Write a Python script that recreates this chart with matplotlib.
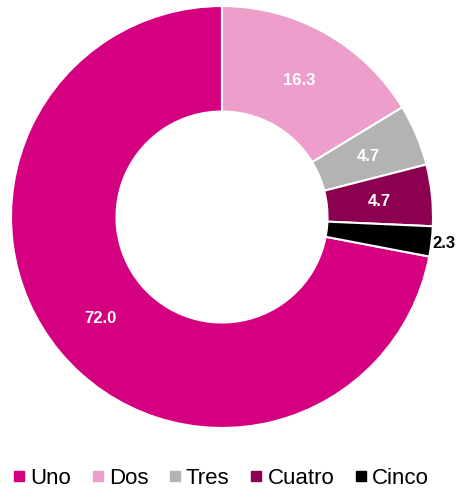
import matplotlib
matplotlib.use("Agg")
import matplotlib.pyplot as plt
from matplotlib.lines import Line2D
import numpy as np

categories = ["Uno", "Dos", "Tres", "Cuatro", "Cinco"]
values = [72.0, 16.3, 4.7, 4.7, 2.3]
colors = ["#D5007F", "#EE9ECB", "#B3B3B3", "#8C0050", "#000000"]
label_colors = ["white", "white", "white", "white", "black"]

plt.rcParams['font.family'] = ['Liberation Sans', 'DejaVu Sans']
fig = plt.figure(figsize=(4.67, 4.89), dpi=100)
R = 211
cx, cy = 222, 218
W, H = 467, 489
ax = fig.add_axes([(cx - R) / W, 1 - (cy + R) / H, 2 * R / W, 2 * R / H])
start = 90 + values[0] / sum(values) * 360
wedges, texts = ax.pie(values, colors=colors, startangle=start, counterclock=False,
                       radius=1.0,
                       wedgeprops=dict(width=0.5, edgecolor="white", linewidth=1.5))
for w, v, lc in zip(wedges, values, label_colors):
    ang = np.deg2rad((w.theta1 + w.theta2) / 2)
    r = 0.75 if lc == "white" else 1.06
    ax.text(r * np.cos(ang), r * np.sin(ang), f"{v:.1f}", ha="center", va="center",
            color=lc, fontsize=12, fontweight="bold")
ax.set_xlim(-1, 1)
ax.set_ylim(-1, 1)
ax.set_aspect("equal")
ax.axis("off")

handles = [Line2D([], [], marker="s", linestyle="none", markersize=7,
                  markerfacecolor=c, markeredgecolor=c) for c in colors]
fig.legend(handles, categories, loc="center", bbox_to_anchor=(0.47, 1 - 479 / H),
           ncol=5, frameon=False, fontsize=16, handletextpad=0.1,
           columnspacing=0.8, handlelength=0.8, borderpad=0)
fig.savefig("out.png", dpi=100)
